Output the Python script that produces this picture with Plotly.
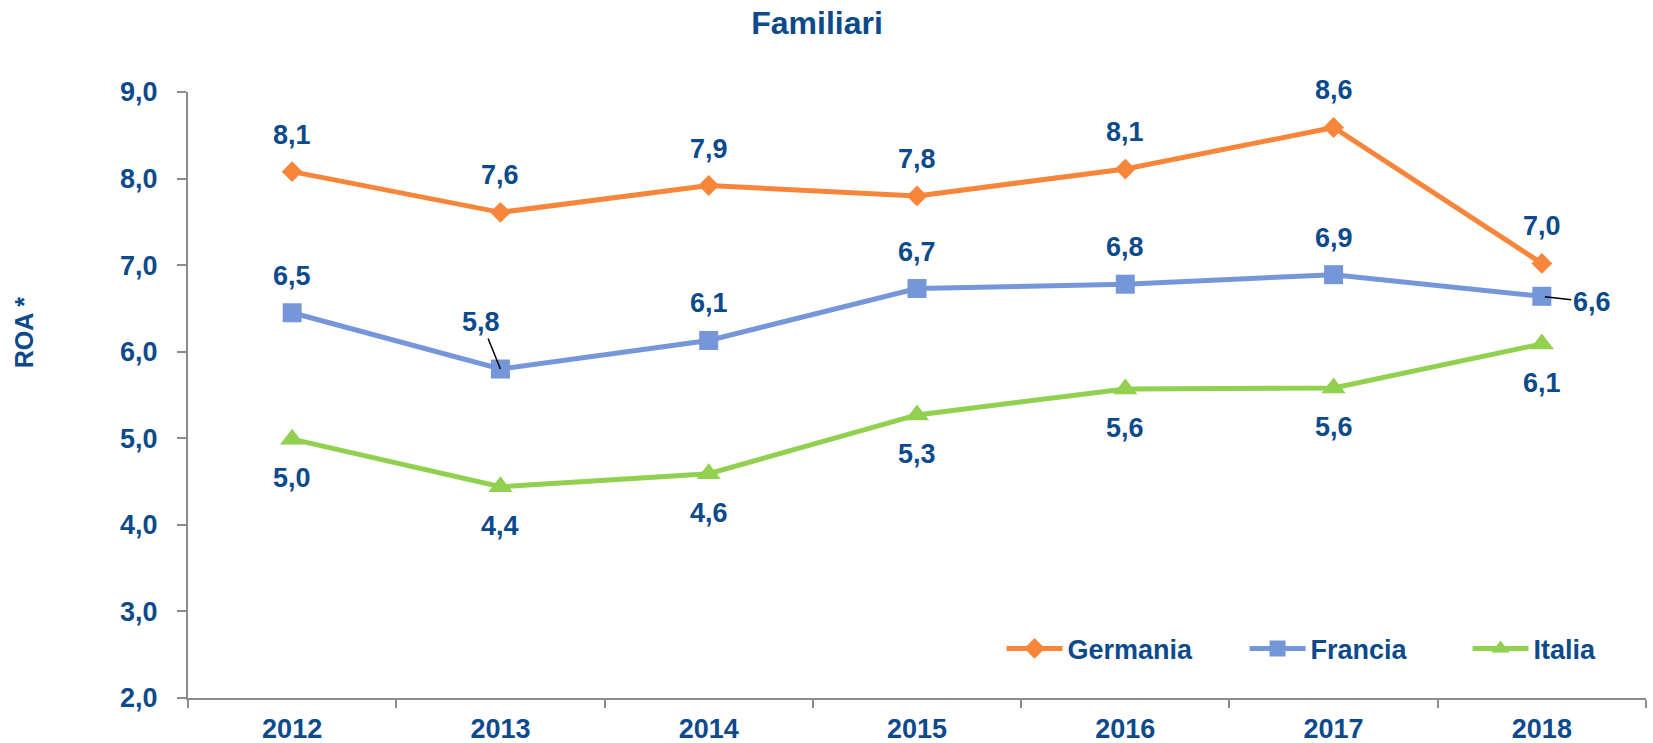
import plotly.graph_objects as go

years = ["2012", "2013", "2014", "2015", "2016", "2017", "2018"]
germania = [8.08, 7.61, 7.92, 7.80, 8.11, 8.59, 7.02]
francia = [6.45, 5.80, 6.13, 6.73, 6.78, 6.89, 6.64]
italia = [4.99, 4.44, 4.59, 5.27, 5.57, 5.58, 6.09]
germania_lbl = ["8,1", "7,6", "7,9", "7,8", "8,1", "8,6", "7,0"]
francia_lbl = ["6,5", "5,8", "6,1", "6,7", "6,8", "6,9", "6,6"]
italia_lbl = ["5,0", "4,4", "4,6", "5,3", "5,6", "5,6", "6,1"]

TXT = "#0D4A8C"
FONT = "Liberation Sans, Arial, sans-serif"
ORANGE = "#F7863A"
BLUE = "#7597D9"
GREEN = "#92D050"

fig = go.Figure()
fig.add_trace(go.Scatter(x=years, y=germania, name="Germania", mode="lines+markers",
                         line=dict(color=ORANGE, width=5), legendwidth=172,
                         marker=dict(symbol="diamond", size=16, color=ORANGE)))
fig.add_trace(go.Scatter(x=years, y=francia, name="Francia", mode="lines+markers",
                         line=dict(color=BLUE, width=5), legendwidth=152,
                         marker=dict(symbol="square", size=19, color=BLUE)))
fig.add_trace(go.Scatter(x=years, y=italia, name="Italia", mode="lines+markers",
                         line=dict(color=GREEN, width=5), legendwidth=70,
                         marker=dict(symbol="triangle-up", size=21, color=GREEN)))

ann = []
lblfont = dict(family=FONT, size=27, color=TXT)
for i, (y, t) in enumerate(zip(germania, germania_lbl)):
    ann.append(dict(x=i, y=y, text="<b>%s</b>" % t, showarrow=False, yshift=37, font=lblfont))
for i, (y, t) in enumerate(zip(francia, francia_lbl)):
    if i == 1:
        ann.append(dict(x=i, y=y, text="<b>%s</b>" % t, showarrow=True, ax=-19, ay=-47,
                        arrowhead=0, arrowwidth=1.5, arrowcolor="black", standoff=0, font=lblfont))
    elif i == 6:
        ann.append(dict(x=i, y=y, text="<b>%s</b>" % t, showarrow=True, ax=50, ay=6,
                        arrowhead=0, arrowwidth=1.5, arrowcolor="black", standoff=3, font=lblfont))
    else:
        ann.append(dict(x=i, y=y, text="<b>%s</b>" % t, showarrow=False, yshift=37, font=lblfont))
for i, (y, t) in enumerate(zip(italia, italia_lbl)):
    ann.append(dict(x=i, y=y, text="<b>%s</b>" % t, showarrow=False, yshift=-39, font=lblfont))

ann.append(dict(xref="paper", yref="paper", x=-0.1123, y=0.604, xanchor="center", yanchor="middle",
                text="<b>ROA *</b>", textangle=-90, showarrow=False,
                font=dict(family=FONT, size=25, color=TXT)))

fig.update_layout(
    width=1653, height=743,
    margin=dict(l=188, r=7, t=92, b=45),
    paper_bgcolor="white", plot_bgcolor="white",
    separators=",.",
    title=dict(text="<b>Familiari</b>", x=0.4943, xref="container", y=0.969, yanchor="middle",
               xanchor="center", font=dict(family=FONT, size=32, color=TXT)),
    font=dict(family=FONT, color=TXT),
    xaxis=dict(type="category", range=[-0.5, 6.5], showline=True, linecolor="#8C8C8C", linewidth=2,
               ticks="outside", tickson="boundaries", ticklen=8, tickwidth=2, tickcolor="#8C8C8C",
               showgrid=False, zeroline=False, ticklabelstandoff=6, automargin=False,
               tickfont=dict(family=FONT, size=27, color=TXT, weight="bold")),
    yaxis=dict(range=[2, 9], dtick=1, tickformat=".1f", showline=True, linecolor="#8C8C8C",
               linewidth=2, ticks="outside", ticklen=9, tickwidth=2, tickcolor="#8C8C8C",
               showgrid=False, zeroline=False, ticklabelstandoff=14, automargin=False,
               tickfont=dict(family=FONT, size=27, color=TXT, weight="bold")),
    legend=dict(orientation="h", x=0.558, xanchor="left", y=0.081, yanchor="middle",
                bgcolor="rgba(0,0,0,0)", itemwidth=56,
                font=dict(family=FONT, size=27, color=TXT, weight="bold")),
    annotations=ann,
    showlegend=True,
)

fig.write_html("out.html", config={"displayModeBar": False},
               post_script="document.body.style.margin='0';")
